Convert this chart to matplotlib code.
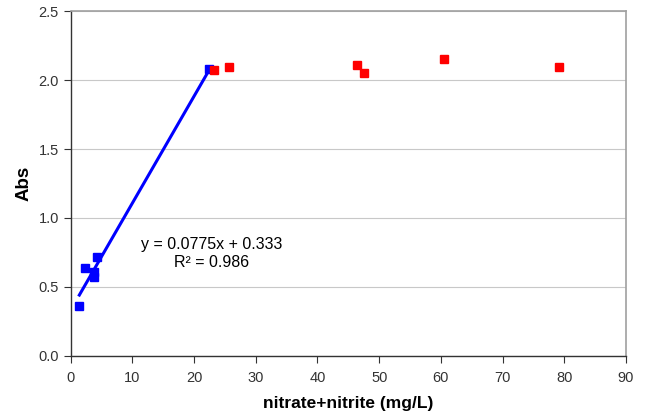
import matplotlib
matplotlib.use("Agg")
import matplotlib.pyplot as plt
import numpy as np

plt.rcParams['font.family'] = ['Liberation Sans', 'DejaVu Sans']

# linear range (blue) and saturated samples (red)
lin_x = [1.4, 2.4, 3.7, 3.8, 4.3, 22.4]
lin_y = [0.36, 0.64, 0.61, 0.575, 0.72, 2.08]
sat_x = [23.3, 25.7, 46.4, 47.5, 60.5, 79.1]
sat_y = [2.07, 2.095, 2.11, 2.05, 2.15, 2.095]

slope, intercept = 0.0775, 0.333
r2 = 0.986

fig = plt.figure(figsize=(6.45, 4.19), dpi=100)
ax = fig.add_axes([0.1096, 0.1504, 0.8609, 0.8233])

ax.grid(axis='y', color='#c8c8c8', linewidth=0.8)
ax.set_axisbelow(True)

tx = np.array([min(lin_x), max(lin_x)])
ax.plot(tx, slope * tx + intercept, color='#0000ff', linewidth=2.2, zorder=2)
ax.plot(lin_x, lin_y, 's', color='#0000ff', markersize=5.3, zorder=3)
ax.plot(sat_x, sat_y, 's', color='#ff0000', markersize=5.3, zorder=4)

ax.text(22.9, 0.805, f"y = {slope}x + {intercept}", ha='center', va='center', fontsize=11.5)
ax.text(22.9, 0.68, f"R² = {r2}", ha='center', va='center', fontsize=11.5)

ax.set_xlim(0, 90)
ax.set_ylim(0, 2.5)
ax.set_xticks(np.arange(0, 91, 10))
ax.set_yticks(np.arange(0, 2.51, 0.5))
ax.yaxis.set_major_formatter(matplotlib.ticker.FormatStrFormatter('%.1f'))
ax.tick_params(labelsize=10.5, direction='out', length=5, width=0.8, colors='#333333')
ax.tick_params(axis='x', pad=6)

for s in ['left', 'bottom']:
    ax.spines[s].set_color('#333333')
    ax.spines[s].set_linewidth(1.0)
for s in ['top', 'right']:
    ax.spines[s].set_color('#a0a0a0')
    ax.spines[s].set_linewidth(1.2)

ax.set_xlabel("nitrate+nitrite (mg/L)", fontsize=12.5, fontweight='bold', labelpad=8)
ax.set_ylabel("Abs", fontsize=13.5, fontweight='bold', labelpad=4)

fig.savefig("out.png", dpi=100)
